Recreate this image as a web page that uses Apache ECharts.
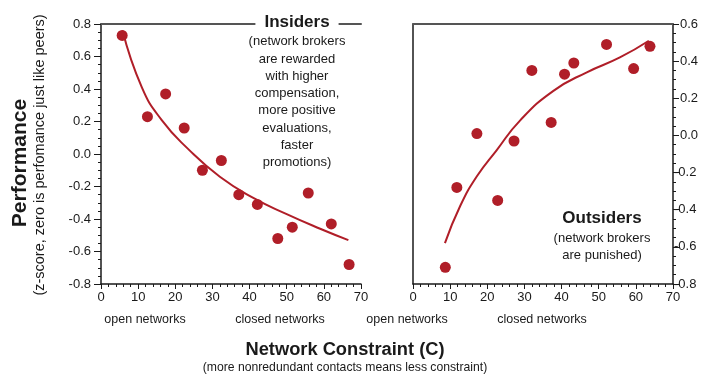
<!DOCTYPE html>
<html>
<head>
<meta charset="utf-8">
<script src="https://cdn.jsdelivr.net/npm/echarts@6/dist/echarts.min.js"></script>
<style>html,body{margin:0;padding:0;background:#fff}#c{width:706px;height:379px}</style>
</head>
<body>
<div id="c"></div>
<script>
// Insiders (left panel)
var insiderX = [5.7, 12.5, 17.4, 22.4, 27.3, 32.4, 37.1, 42.1, 47.6, 51.5, 55.8, 62.0, 66.8];
var insiderY = [0.73, 0.23, 0.37, 0.16, -0.10, -0.04, -0.25, -0.31, -0.52, -0.45, -0.24, -0.43, -0.68];
var insiderFitX = [5.8, 11.0, 16.3, 23.5, 32.0, 41.0, 50.0, 59.0, 66.6];
var insiderFitY = [0.76, 0.41, 0.21, 0.03, -0.14, -0.27, -0.37, -0.46, -0.53];
// Outsiders (right panel)
var outsiderX = [8.7, 11.8, 17.2, 22.8, 27.2, 32.0, 37.2, 40.8, 43.3, 52.1, 59.4, 63.8];
var outsiderY = [-0.71, -0.28, 0.01, -0.35, -0.03, 0.35, 0.07, 0.33, 0.39, 0.49, 0.36, 0.48];
var outsiderFitX = [8.6, 12.7, 17.2, 22.5, 28.8, 37.8, 46.8, 55.7, 63.5];
var outsiderFitY = [-0.58, -0.38, -0.22, -0.08, 0.08, 0.24, 0.34, 0.42, 0.51];
// Axis ranges / ticks
var xRange = [0, 70], xStep = 10;
var leftYRange = [-0.8, 0.8], rightYRange = [-0.8, 0.6], yStep = 0.2;
// Texts
var insiderTitle = 'Insiders';
var insiderNote = '(network brokers\nare rewarded\nwith higher\ncompensation,\nmore positive\nevaluations,\nfaster\npromotions)';
var outsiderTitle = 'Outsiders';
var outsiderNote = '(network brokers\nare punished)';
var yTitle = 'Performance';
var ySub = '(z-score, zero is perfomance just like peers)';
var xTitle = 'Network Constraint (C)';
var xSub = '(more nonredundant contacts means less constraint)';
var openLbl = 'open networks', closedLbl = 'closed networks';

var FONT = '"Liberation Sans", Arial, Helvetica, sans-serif';
var RED = '#b01e28';
var INK = '#1a1a1a';

function pair(xs, ys) { return xs.map(function (x, i) { return [x, ys[i]]; }); }
function fmt(v) { if (Math.abs(v) < 1e-9) v = 0; return v.toFixed(1); }

function bottomAxis(g) {
  return {
    gridIndex: g, type: 'value', position: 'bottom', min: xRange[0], max: xRange[1], interval: xStep,
    axisLine: { show: true, onZero: false, lineStyle: { color: INK, width: 1.5 } },
    axisTick: { show: true, length: 5, lineStyle: { color: INK, width: 1 } },
    minorTick: { show: true, splitNumber: 5, length: 3, lineStyle: { color: INK, width: 1 } },
    splitLine: { show: false },
    axisLabel: { fontFamily: FONT, fontSize: 13, color: INK, margin: 7 }
  };
}
function topAxis(g) {
  return {
    gridIndex: g, type: 'value', position: 'top', min: xRange[0], max: xRange[1],
    axisLine: { show: true, onZero: false, lineStyle: { color: '#555', width: 2 } },
    axisTick: { show: false }, axisLabel: { show: false }, splitLine: { show: false }
  };
}

var chart = echarts.init(document.getElementById('c'), null, { renderer: 'canvas' });
chart.setOption({
  animation: false,
  backgroundColor: '#fff',
  grid: [
    { left: 101, top: 24, width: 260, height: 260 },
    { left: 413, top: 24, width: 260, height: 260 }
  ],
  xAxis: [bottomAxis(0), topAxis(0), bottomAxis(1), topAxis(1)],
  yAxis: [
    {
      gridIndex: 0, type: 'value', position: 'left', min: leftYRange[0], max: leftYRange[1], interval: yStep,
      axisLine: { show: true, onZero: false, lineStyle: { color: INK, width: 1.5 } },
      axisTick: { show: true, length: 7, lineStyle: { color: INK, width: 1 } },
      minorTick: { show: true, splitNumber: 4, length: 3, lineStyle: { color: INK, width: 1 } },
      splitLine: { show: false },
      axisLabel: { fontFamily: FONT, fontSize: 13, color: INK, margin: 10, formatter: fmt }
    },
    {
      gridIndex: 1, type: 'value', position: 'right', min: rightYRange[0], max: rightYRange[1], interval: yStep,
      axisLine: { show: true, onZero: false, lineStyle: { color: INK, width: 1.5 } },
      axisTick: { show: true, length: 6, lineStyle: { color: INK, width: 1 } },
      minorTick: { show: true, splitNumber: 4, length: 3, lineStyle: { color: INK, width: 1 } },
      splitLine: { show: false },
      axisLabel: {
        fontFamily: FONT, fontSize: 13, color: INK, margin: 1,
        formatter: function (v) { var s = fmt(v); return s.charAt(0) === '-' ? s : '{p|' + s + '}'; },
        rich: { p: { fontFamily: FONT, fontSize: 13, color: INK, padding: [0, 0, 0, 6] } }
      }
    },
    {
      gridIndex: 1, type: 'value', position: 'left', min: rightYRange[0], max: rightYRange[1],
      axisLine: { show: true, onZero: false, lineStyle: { color: INK, width: 1.5 } },
      axisTick: { show: false }, axisLabel: { show: false }, splitLine: { show: false }
    }
  ],
  series: [
    {
      type: 'line', xAxisIndex: 0, yAxisIndex: 0, data: pair(insiderFitX, insiderFitY),
      smooth: 0.5, showSymbol: false, lineStyle: { color: RED, width: 2 }, z: 3
    },
    {
      type: 'scatter', xAxisIndex: 0, yAxisIndex: 0, data: pair(insiderX, insiderY),
      symbolSize: 11, itemStyle: { color: RED, opacity: 1 }, z: 4
    },
    {
      type: 'line', xAxisIndex: 2, yAxisIndex: 1, data: pair(outsiderFitX, outsiderFitY),
      smooth: 0.5, showSymbol: false, lineStyle: { color: RED, width: 2 }, z: 3
    },
    {
      type: 'scatter', xAxisIndex: 2, yAxisIndex: 1, data: pair(outsiderX, outsiderY),
      symbolSize: 11, itemStyle: { color: RED, opacity: 1 }, z: 4
    }
  ],
  graphic: {
    z: 100,
    elements: [
      { type: 'text', z: 100, x: 297, y: 22, style: { text: insiderTitle, font: 'bold 17px ' + FONT, fill: INK, align: 'center', verticalAlign: 'middle', backgroundColor: '#fff', padding: [2, 9] } },
      { type: 'text', z: 100, x: 297, y: 33, style: { text: insiderNote, font: '13px ' + FONT, fill: INK, align: 'center', verticalAlign: 'top', lineHeight: 17.3 } },
      { type: 'text', z: 100, x: 602, y: 218, style: { text: outsiderTitle, font: 'bold 17px ' + FONT, fill: INK, align: 'center', verticalAlign: 'middle' } },
      { type: 'text', z: 100, x: 602, y: 230, style: { text: outsiderNote, font: '13px ' + FONT, fill: INK, align: 'center', verticalAlign: 'top', lineHeight: 17 } },
      { type: 'text', z: 100, x: 20, y: 163, rotation: Math.PI / 2, style: { text: yTitle, font: 'bold 21px ' + FONT, fill: INK, align: 'center', verticalAlign: 'middle' } },
      { type: 'text', z: 100, x: 40, y: 155, rotation: Math.PI / 2, style: { text: ySub, font: '14.5px ' + FONT, fill: INK, align: 'center', verticalAlign: 'middle' } },
      { type: 'text', z: 100, x: 145, y: 320, style: { text: openLbl, font: '12.5px ' + FONT, fill: INK, align: 'center', verticalAlign: 'middle' } },
      { type: 'text', z: 100, x: 280, y: 320, style: { text: closedLbl, font: '12.5px ' + FONT, fill: INK, align: 'center', verticalAlign: 'middle' } },
      { type: 'text', z: 100, x: 407, y: 320, style: { text: openLbl, font: '12.5px ' + FONT, fill: INK, align: 'center', verticalAlign: 'middle' } },
      { type: 'text', z: 100, x: 542, y: 320, style: { text: closedLbl, font: '12.5px ' + FONT, fill: INK, align: 'center', verticalAlign: 'middle' } },
      { type: 'text', z: 100, x: 345, y: 350, style: { text: xTitle, font: 'bold 18.3px ' + FONT, fill: INK, align: 'center', verticalAlign: 'middle' } },
      { type: 'text', z: 100, x: 345, y: 367.5, style: { text: xSub, font: '12.2px ' + FONT, fill: INK, align: 'center', verticalAlign: 'middle' } }
    ]
  }
});
</script>
</body>
</html>
